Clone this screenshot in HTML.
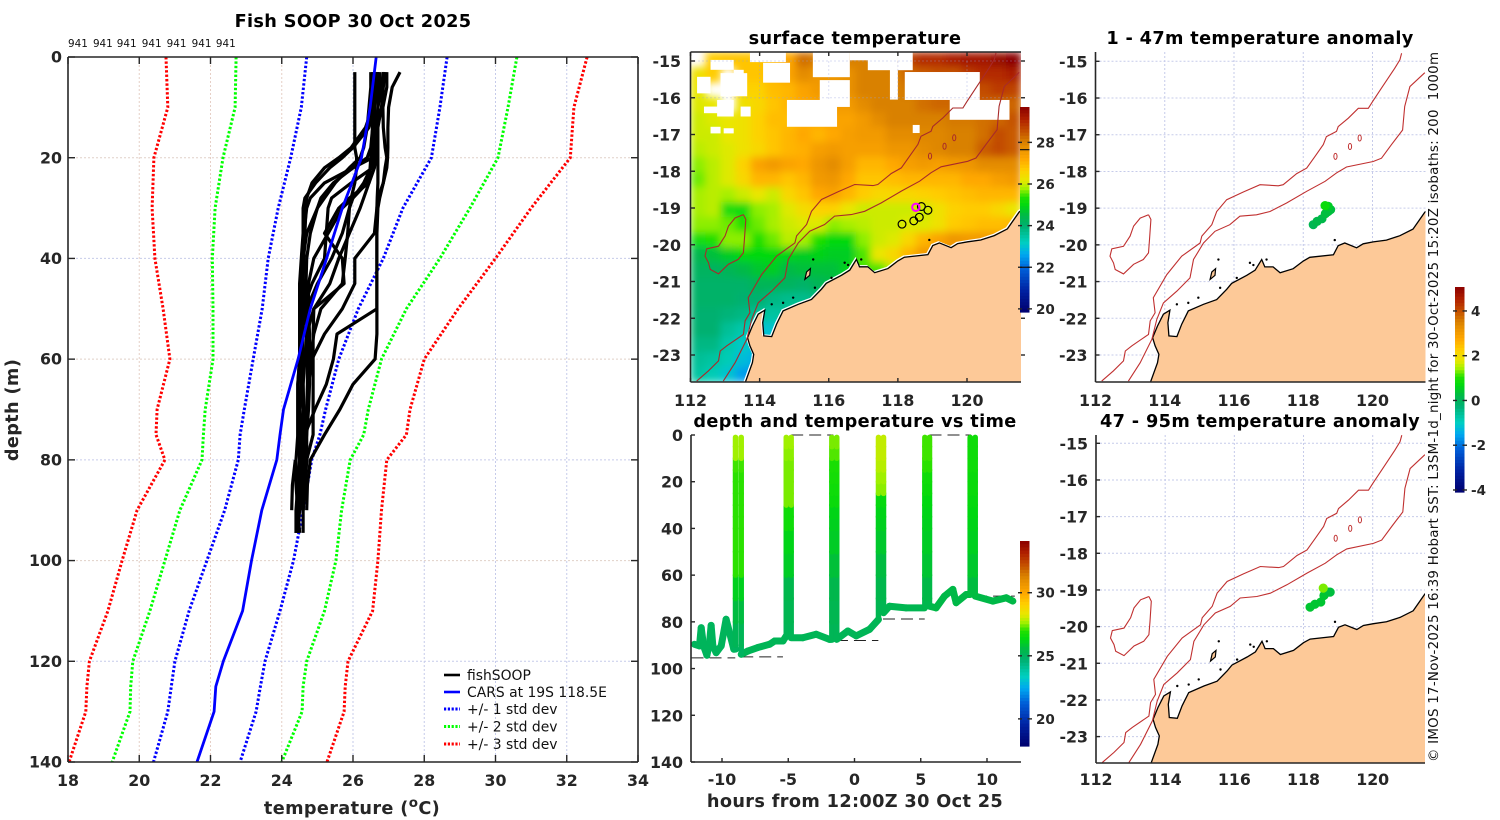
<!DOCTYPE html>
<html lang="en">
<head>
<meta charset="utf-8">
<title>Fish SOOP 30 Oct 2025</title>
<style>
html,body{margin:0;padding:0;background:#fff;}
svg{display:block;font-family:"DejaVu Sans","Liberation Sans",sans-serif;}
.tk{font-weight:bold;font-size:15.8px;fill:#262626;}
.cb{font-weight:bold;font-size:13.5px;fill:#262626;}
.ti{font-weight:bold;font-size:17.7px;fill:#000;letter-spacing:.35px;}
.lb{font-weight:bold;font-size:17.7px;fill:#262626;letter-spacing:.35px;}
.lg{font-size:13.9px;fill:#111;}
.id{font-size:10.4px;fill:#111;}
</style>
</head>
<body>
<svg id="fig" xmlns="http://www.w3.org/2000/svg" width="1500" height="820" viewBox="0 0 1500 820">
<defs>
<filter id="soft" x="-5%" y="-5%" width="110%" height="110%"><feGaussianBlur stdDeviation="4"/></filter>
<clipPath id="clipSst"><rect x="690.5" y="52" width="330.5" height="330"/></clipPath>
<clipPath id="clipA1"><rect x="1095.5" y="52" width="330" height="330"/></clipPath>
<clipPath id="clipA2"><rect x="1096" y="435" width="329" height="328"/></clipPath>
<clipPath id="clipProf"><rect x="68" y="57" width="570" height="705"/></clipPath>
<clipPath id="clipTime"><rect x="691" y="430" width="331" height="332"/></clipPath>
</defs>

<g id="profilePanel"></g>
<g id="sstPanel"></g>
<g id="timePanel"></g>
<g id="a1Panel"></g>
<g id="a2Panel"></g>

<text class="ti" x="353" y="27" text-anchor="middle">Fish SOOP 30 Oct 2025</text>
<text class="ti" x="855" y="44" text-anchor="middle">surface temperature</text>
<text class="ti" x="855" y="427" text-anchor="middle">depth and temperature vs time</text>
<text class="ti" x="1260" y="44" text-anchor="middle">1 - 47m temperature anomaly</text>
<text class="ti" x="1260" y="427" text-anchor="middle">47 - 95m temperature anomaly</text>

<text class="lb" transform="translate(18 410) rotate(-90)" text-anchor="middle">depth (m)</text>
<text class="lb" x="352" y="814" text-anchor="middle">temperature (<tspan dy="-7" font-size="13.5">o</tspan><tspan dy="7">C)</tspan></text>
<text class="lb" x="855" y="807" text-anchor="middle">hours from 12:00Z 30 Oct 25</text>

<text transform="translate(1438 762) rotate(-90)" font-size="13.4" fill="#111" textLength="710" lengthAdjust="spacing" style="white-space:pre">© IMOS 17-Nov-2025 16:39 Hobart SST: L3SM-1d_night for 30-Oct-2025 15:20Z isobaths: 200  1000m</text>

<g>
<line x1="444" x2="460" y1="675" y2="675" stroke="#000" stroke-width="2.6"/>
<text class="lg" x="467" y="680">fishSOOP</text>
<line x1="444" x2="460" y1="692" y2="692" stroke="#0000ff" stroke-width="2.6"/>
<text class="lg" x="467" y="697">CARS at 19S 118.5E</text>
<line x1="444" x2="460" y1="709" y2="709" stroke="#0000ff" stroke-width="3" stroke-dasharray="2.2 1.6"/>
<text class="lg" x="467" y="714">+/- 1 std dev</text>
<line x1="444" x2="460" y1="726.5" y2="726.5" stroke="#00ff00" stroke-width="3" stroke-dasharray="2.2 1.6"/>
<text class="lg" x="467" y="731.5">+/- 2 std dev</text>
<line x1="444" x2="460" y1="744" y2="744" stroke="#ff0000" stroke-width="3" stroke-dasharray="2.2 1.6"/>
<text class="lg" x="467" y="749">+/- 3 std dev</text>
</g>
</svg>

<script>
/* ---------- profile chart data ---------- */
const tempTicks = [18,20,22,24,26,28,30,32,34];
const depthTicks = [0,20,40,60,80,100,120,140];
const dropIds = ['941','941','941','941','941','941','941'];
const dropIdTemps = [18,18.7,19.37,20.07,20.77,21.47,22.15];
const carsDepths = [0,10,20,30,40,50,60,70,75,80,90,100,110,120,125,130,140];
const carsMean = [26.65,26.48,26.24,25.7,25.26,24.8,24.46,24.05,23.95,23.86,23.44,23.15,22.9,22.36,22.15,22.1,21.62];
const carsMinus1 = [24.7,24.55,24.25,23.9,23.62,23.45,23.2,22.95,22.83,22.78,22.4,21.9,21.4,21,20.9,20.8,20.4];
const carsPlus1 = [28.64,28.44,28.2,27.4,26.85,26.15,25.6,25.23,25.07,24.84,24.6,24.33,23.95,23.53,23.4,23.28,22.83];
const carsMinus2 = [22.72,22.69,22.35,22.13,22.05,22.07,22.07,21.85,21.8,21.76,21.14,20.72,20.3,19.82,19.76,19.74,19.24];
const carsPlus2 = [30.6,30.35,30.07,29.28,28.44,27.5,26.8,26.43,26.3,25.92,25.68,25.52,25.2,24.7,24.6,24.57,24];
const carsMinus3 = [20.75,20.8,20.41,20.36,20.44,20.67,20.86,20.5,20.47,20.72,19.94,19.52,19.12,18.6,18.53,18.5,18.03];
const carsPlus3 = [32.57,32.2,32.1,31,30,28.95,28,27.6,27.5,26.95,26.8,26.7,26.55,25.86,25.78,25.75,25.27];
const fishDepths = [3,6,10,14,18,20,22,25,28,30,35,40,45,50,55,60,65,70,75,80,85,90,94.5];
const fishProfile1 = [26.95,26.95,26.84,26.85,26.9,26.95,26.9,26.85,26.7,26.67,26.67,26.67,26.67,26.67,26.67,26.62,26.0,25.63,25.2,24.8,24.72,24.7,null];
const fishProfile2 = [27.32,27.1,27,26.98,26.98,26.97,26.95,26.85,26.75,26.7,26.67,26.67,26.67,26.67,25.55,25.45,25.25,24.93,24.65,24.62,24.6,24.55,null];
const fishProfile3 = [26.65,26.6,26.55,26.35,25.95,25.6,25.2,24.85,24.7,24.68,24.65,24.62,24.6,24.6,24.55,24.55,24.55,24.5,24.5,24.5,24.45,24.4,24.4];
const fishProfile4 = [26.7,26.65,26.6,26.45,26,25.7,25.35,24.95,24.65,24.6,24.6,24.55,24.5,24.5,24.5,24.5,24.45,24.45,24.45,24.5,24.5,24.45,24.5];
const fishProfile5 = [26.9,26.85,26.8,26.7,26.65,26.55,26,25.45,25.1,25,24.7,24.6,24.55,24.55,24.55,24.55,24.55,24.5,24.55,24.6,24.6,24.6,24.6];
const fishProfile6 = [26.85,26.8,26.7,26.65,26.65,26.6,26.55,25.95,25.4,25.3,25.25,25.2,24.85,24.6,24.6,24.55,24.55,24.6,24.65,24.6,24.55,24.5,24.45];
const fishProfile7 = [26.7,26.7,26.7,26.7,26.7,26.65,26.6,26.45,25.9,25.6,25.2,25.7,25.75,24.9,24.7,24.65,24.6,24.6,24.6,24.65,24.6,24.55,null];
const fishProfile8 = [26.6,26.6,26.6,26.6,26.6,26.55,26.5,26.4,26,25.9,25.85,25.78,25.7,25.1,24.9,24.8,24.75,24.7,24.65,24.65,24.6,24.6,null];
const fishProfile9 = [26.75,26.75,26.7,26.7,26.7,26.7,26.7,26.7,26.68,26.67,26.6,26.05,26.05,25.7,25.2,24.85,24.75,24.7,24.7,24.7,24.65,24.6,null];
const fishProfile10 = [26.55,26.55,26.55,26.55,26.52,26.5,26.48,26.45,26.3,26.2,25.9,25.6,25.35,24.9,24.88,24.88,24.88,24.88,24.88,24.7,24.65,24.6,null];
const fishProfile11 = [26.05,26.05,26.05,26.05,26.05,26.1,26.1,26.05,25.95,25.9,25.7,25.4,25,24.7,24.55,24.5,24.45,24.45,24.45,24.4,24.4,24.45,24.4];
const fishProfile12 = [null,null,null,null,null,null,null,null,null,null,null,null,null,null,null,null,null,null,null,24.38,24.3,24.28,null];
const fishProfile13 = [26.6,26.6,26.6,26.55,26.5,26.4,26.0,25.2,24.8,24.7,24.62,24.6,24.58,24.58,24.58,24.6,24.6,24.62,24.6,24.55,24.55,24.5,null];
const fishProfile14 = [26.5,26.5,26.45,26.4,26.3,26.2,25.9,25.5,25.2,25,24.8,24.7,24.68,24.68,24.7,24.72,24.72,24.7,24.68,24.6,24.58,24.55,null];
const fishProfile15 = [26.65,26.65,26.6,26.6,26.58,26.55,26.5,26.3,26,25.7,25.3,24.9,24.75,24.75,24.78,24.78,24.78,24.75,24.7,24.62,24.6,24.52,null];
const fishProfiles = [fishProfile1,fishProfile2,fishProfile3,fishProfile4,fishProfile5,fishProfile6,fishProfile7,fishProfile8,fishProfile9,fishProfile10,fishProfile11,fishProfile12,fishProfile13,fishProfile14,fishProfile15];

/* ---------- map data ---------- */
const lonTicks = [112,114,116,118,120];
const latTicks = [-15,-16,-17,-18,-19,-20,-21,-22,-23];
const coastLon = [113.58,113.79,113.83,113.72,113.65,113.79,113.96,114.15,114.09,114.12,114.35,114.49,114.68,115.12,115.5,115.79,115.93,116.37,116.61,116.8,116.89,117.13,117.33,117.71,118,118.19,118.87,119.01,119.2,119.54,119.73,120.02,120.4,120.79,121.17,121.51,121.6];
const coastLat = [-23.76,-23.21,-22.98,-22.75,-22.53,-22.21,-21.89,-21.78,-22.12,-22.48,-22.5,-22.16,-21.8,-21.62,-21.49,-21.21,-21.05,-20.83,-20.69,-20.4,-20.6,-20.6,-20.76,-20.65,-20.44,-20.34,-20.27,-20.02,-19.95,-20.08,-19.97,-19.92,-19.87,-19.75,-19.57,-19.11,-19.05];
const iso1Lon = [120.84,120.79,120.64,120.26,120,119.88,119.59,119.3,119.01,118.96,118.67,118.58,118.34,118.1,117.81,117.42,117.28,116.75,116.27,115.79,115.5,115.36,115.07,115.02,114.49,114.06,113.67,113.72,113.58,113.53,113.05,112.86,112.81,112.52,112.18];
const iso1Lat = [-14.78,-14.96,-15.19,-15.73,-16.1,-16.28,-16.28,-16.55,-16.78,-16.91,-17.05,-17.27,-17.59,-17.91,-18.06,-18.36,-18.39,-18.36,-18.56,-18.77,-19.09,-19.45,-19.76,-19.95,-20.31,-20.81,-21.44,-21.85,-22.07,-22.44,-22.75,-22.89,-23.16,-23.43,-23.71];
const iso2Lon = [121.51,121.08,120.93,120.87,120.55,120.26,120.02,119.25,118.96,118.63,118.1,117.52,117.04,116.65,116.17,115.88,115.45,115.12,114.83,114.73,114.35,113.96,113.77,113.63,113.29,112.95];
const iso2Lat = [-15.31,-15.69,-16.23,-16.87,-17.27,-17.64,-17.73,-17.88,-18.04,-18.27,-18.54,-18.86,-19.09,-19.18,-19.22,-19.45,-19.63,-19.95,-20.4,-20.9,-21.26,-21.58,-22.03,-22.57,-23.21,-23.71];
const plateauLon = [113.53,113.6,113.56,113.53,113.38,113.1,112.81,112.57,112.52,112.42,112.47,112.81,113,113.1,113.29,113.53];
const plateauLat = [-19.18,-19.31,-19.86,-20.22,-20.4,-20.53,-20.79,-20.67,-20.49,-20.31,-20.11,-20.04,-19.76,-19.49,-19.27,-19.18];
const seamountLon = [118.93,119.35,119.63];
const seamountLat = [-17.59,-17.32,-17.09];
const barrowLon = [115.31,115.36,115.47,115.45,115.31];
const barrowLat = [-20.94,-20.74,-20.65,-20.83,-20.94];
const islandLon = [115.55,116.56,116.46,116.94,114.35,114.68,114.97,116.08,115.6,118.91];
const islandLat = [-20.4,-20.55,-20.49,-20.4,-21.62,-21.58,-21.44,-20.9,-21.17,-19.87];

/* ---------- SST heatmap (degC per cell, null = cloud) ---------- */
const _ = null;
const sstRow0  = [_,26.7,26.8,26.8,26.8,27,27.2,28.2,28,28,28,28,28,28.2,28.7,29,29,29.2,29.3,29.3,29.5,29.7];
const sstRow1  = [26.3,26.7,_,26.8,26.8,27,27.3,27.8,27.6,27.6,27.7,28,28,28,28.3,28.4,28.5,28.5,28.8,29,29,29.2];
const sstRow2  = [26.2,_,_,26.6,26.6,26.9,27,27.3,27.5,27.6,27.7,28,28,28,28.1,28.2,28.3,28.4,28.5,28.6,28.8,28.7];
const sstRow3  = [26.1,26.2,_,26.3,26.5,26.8,27,27.2,27.3,27.5,27.5,27.8,28,28,28,28.2,28.3,28.3,28.5,28.4,28.3,28.3];
const sstRow4  = [26,26.1,26.2,26.3,26.6,26.9,26.9,27.1,27.2,27.3,27.3,27.5,27.8,28,28,28,28,28.1,28.1,28.2,28.3,28.5];
const sstRow5  = [26,26,26.2,26.3,26.6,26.8,27,27.2,27,27.2,27.4,27.5,27.5,27.8,27.8,27.9,27.9,28,28,28.2,28.6,28.4];
const sstRow6  = [25.9,26,26.1,26.3,26.5,26.8,27,27.1,27.4,27.5,27.4,27.4,27.4,27.6,27.6,27.8,27.9,28,28,28.4,28.6,28.4];
const sstRow7  = [25.7,25.9,26.1,26.6,27.3,27.5,27.3,27.2,27.6,27.8,27.4,27,27,27.2,27.4,27.5,27.4,27.5,27.6,27.8,27.8,27.8];
const sstRow8  = [25.6,25.9,26.1,26.5,27,27,26.8,27,27.5,27.6,27.2,26.8,26.8,26.9,27,27,27,27,27.2,27.2,27.4,27.5];
const sstRow9  = [25.8,25.9,25.8,26,26.2,26,26.5,26.8,27.2,27.3,27,26.7,26.5,26.5,26.5,26.6,26.7,26.8,26.9,27,27,27];
const sstRow10 = [25.8,25.9,25.2,25.1,25.7,25.8,26.1,26.4,26.6,26.6,26.2,26,26,26,26,26,26.3,26.6,26.7,26.7,26.5,26.2];
const sstRow11 = [25.7,25.7,25.6,25.3,25.6,25.8,26,26.1,26.1,25.7,25.8,25.9,26,26,26.1,26.1,26.3,26.7,26.8,26.9,26.9,27];
const sstRow12 = [25.2,25.3,25.7,25.7,25.3,25.6,25.9,25.8,25.3,25,25,25.7,26,26.1,26.5,27,27.3,27.6,27.5,27.5,27.5,27.5];
const sstRow13 = [24.4,24.6,24.8,25,25,25,24.9,24.8,24.9,24.8,24.8,25.5,26.2,26.5,27,27.5,27.5,27.5,27.5,27.5,27.5,27.5];
const sstRow14 = [24.2,24.2,24.3,24.5,24.7,24.8,24.5,24.6,24.6,24.6,24.9,25.5,25.5,26,26,26,26,26,26,26,26,26];
const sstRow15 = [24.1,24.1,24.1,24.1,24.3,24.3,24.2,24.1,24.3,24.5,24.6,24.6,24.6,24.6,24.6,24.6,24.6,24.6,24.6,24.6,24.6,24.6];
const sstRow16 = [24.1,24.1,24.1,24,24,23.8,23.7,23.7,23.8,23.8,23.8,23.8,23.8,23.8,23.8,23.8,23.8,23.8,23.8,23.8,23.8,23.8];
const sstRow17 = [24,24,23.9,23.8,23.6,23.5,23.6,23.6,23.6,23.6,23.6,23.6,23.6,23.6,23.6,23.6,23.6,23.6,23.6,23.6,23.6,23.6];
const sstRow18 = [24,24,23.6,23.4,23,23,23.2,23.2,23.2,23.2,23.2,23.2,23.2,23.2,23.2,23.2,23.2,23.2,23.2,23.2,23.2,23.2];
const sstRow19 = [23.8,23.8,23.4,23.1,22.9,22.8,22.6,22.6,22.6,22.6,22.6,22.6,22.6,22.6,22.6,22.6,22.6,22.6,22.6,22.6,22.6,22.6];
const sstRow20 = [23.6,23.5,23.3,22.9,22.6,22.4,22.3,22.3,22.3,22.3,22.3,22.3,22.3,22.3,22.3,22.3,22.3,22.3,22.3,22.3,22.3,22.3];
const sstRow21 = [23.5,23.3,23,22.5,22.3,22.2,22.2,22.2,22.2,22.2,22.2,22.2,22.2,22.2,22.2,22.2,22.2,22.2,22.2,22.2,22.2,22.2];
const sstGrid = [sstRow0,sstRow1,sstRow2,sstRow3,sstRow4,sstRow5,sstRow6,sstRow7,sstRow8,sstRow9,sstRow10,sstRow11,sstRow12,sstRow13,sstRow14,sstRow15,sstRow16,sstRow17,sstRow18,sstRow19,sstRow20,sstRow21];
const cloudLon = [112.87,114.1,114.79,115.74,115.54,116.61,117.13,117.77,118,118.2,119.5,118.43,113.72,112.58,112.19,113.25,112.77,112.39,113.45,112.58,112.96];
const cloudLat = [-15.33,-15.05,-16.06,-15.52,-14.76,-14.76,-14.76,-15.05,-14.76,-15.3,-16.06,-16.74,-14.76,-14.97,-15.43,-15.24,-16.06,-16.24,-16.24,-16.79,-16.83];
const cloudLonSpan = [0.77,0.78,1.45,0.87,1.07,1.39,0.87,0.23,0.43,2.17,1.73,0.2,1.04,0.67,0.39,0.29,0.48,0.39,0.29,0.29,0.29];
const cloudLatSpan = [0.63,0.54,0.73,0.73,0.68,0.22,0.49,1,0.49,0.76,0.54,0.22,0.27,0.27,0.45,0.63,0.45,0.18,0.27,0.18,0.14];
const stationLon = [118.12,118.46,118.62,118.87,118.68];
const stationLat = [-19.44,-19.35,-19.25,-19.06,-18.96];
const currentLon = [118.52];
const currentLat = [-18.98];

/* ---------- anomaly tracks ---------- */
const anom1Lon = [118.29,118.4,118.54,118.64,118.72,118.79,118.72,118.63];
const anom1Lat = [-19.45,-19.36,-19.29,-19.15,-19.09,-19.04,-18.95,-18.93];
const anom1Val = [0.1,0.2,0.2,0.3,0.3,0.3,0.5,0.8];
const anom2Lon = [118.19,118.33,118.5,118.59,118.72,118.77,118.57];
const anom2Lat = [-19.47,-19.39,-19.33,-19.15,-19.06,-19.06,-18.95];
const anom2Val = [0.4,0.4,0.4,0.4,0.4,0.3,1.3];

/* ---------- depth / time data ---------- */
const hourTicks = [-10,-5,0,5,10];
const timeDepthTicks = [0,20,40,60,80,100,120,140];
const leg1Hours = [-12.08,-11.7,-11.57,-11.39,-11.14,-10.94,-10.82,-10.69,-10.44,-10.06,-9.69,-9.43,-9.11,-8.98];
const leg1Depth = [89.6,90.3,82.5,90.3,94.3,88.9,81.5,90.3,93.2,90.3,78.9,84.6,91.7,91.7];
const leg2Hours = [-8.55,-8.05,-7.3,-6.41,-6.03,-5.4,-5.15];
const leg2Depth = [93.9,92.5,91,89.6,88.2,88.2,86];
const leg3Hours = [-4.78,-3.9,-2.89,-1.89,-1.71];
const leg3Depth = [86.8,86.8,85.3,87.5,87.5];
const leg4Hours = [-1.34,-0.5,0.13,1.14,1.81];
const leg4Depth = [87.5,83.9,86,83.2,79];
const leg5Hours = [2.19,2.64,3.9,5.28];
const leg5Depth = [76.1,73.3,74,74];
const leg6Hours = [5.66,6.16,6.79,7.42,7.67,8.43,8.73];
const leg6Depth = [73.3,74,69,66.1,71.8,68.3,68.3];
const leg7Hours = [9.11,10.45,11.45,11.95];
const leg7Depth = [69,71.1,69.7,71.1];
const legTemps = [25.1,25.2,25.2,25.2,25.3,25.5,25.5];
const legHours = [leg1Hours,leg2Hours,leg3Hours,leg4Hours,leg5Hours,leg6Hours,leg7Hours];
const legDepths = [leg1Depth,leg2Depth,leg3Depth,leg4Depth,leg5Depth,leg6Depth,leg7Depth];
const castDepths = [1,5,10,15,20,25,30,35,40,50,60,70,80,90];
const cast1Temps = [27.6,27.6,27.1,27,27,27,27,27,27,27,26.1,25.6,25.2,25];
const cast2Temps = [27.6,27.5,27.4,27.4,27.4,27.4,26.6,26.6,26.2,26,25.4,25.3,25.2,25];
const cast3Temps = [27.4,27.2,26.8,26.7,26.6,26.5,26.2,26.1,26,25.7,25.4,25.3,25.2,25];
const cast4Temps = [27.9,27.9,27.8,27.6,27.5,26.4,26.2,26.1,25.9,25.6,25.4,25.3,25.2,25];
const cast5Temps = [27.1,27.1,27,26.6,26.5,26.3,26.2,26.1,26,25.8,25.5,25.4,25.3,25.2];
const cast6Temps = [26.6,26.6,26.6,26.5,26.5,26.4,26.3,26.2,26.1,25.9,25.6,25.4,25.3,25.2];
const castTemps = [cast1Temps,cast2Temps,cast3Temps,cast4Temps,cast5Temps,cast6Temps];
const castDownHours = [-8.98,-5.15,-1.71,1.81,5.31,8.73];
const castUpHours = [-8.55,-4.78,-1.34,2.19,5.66,9.11];
const castDownBottom = [91.7,86,87.5,79,74,68.3];
const castUpBottom = [93.9,86.8,87.5,76.1,73.3,69];
const seabedStart = [-12.3,-8.55,-4.78,-1.4,2.15,5.66,9.1];
const seabedEnd = [-9,-5.4,-1.6,1.8,5.3,8.8,12.1];
const seabedDepth = [95.4,95,0,88,78.8,0,69];

/* ---------- colour bars ---------- */
const sstBarTicks = [20,22,24,26,28];
const timeBarTicks = [20,25,30];
const anomBarTicks = [-4,-2,0,2,4];

/* ---------- helpers ---------- */
const NS = 'http://www.w3.org/2000/svg';
function el(tag, attrs, parent){
  const e = document.createElementNS(NS, tag);
  for (const k in attrs) e.setAttribute(k, attrs[k]);
  parent.appendChild(e);
  return e;
}
function scale(d0,d1,r0,r1){ return v => r0 + (v-d0)*(r1-r0)/(d1-d0); }
const cmapPos = [0,.1,.21,.28,.34,.42,.47,.52,.56,.6,.64,.69,.745,.8,.83,.87,.94,1];
const cmapCol = ['#00006e','#0020a0','#0060d8','#00a8f0','#00d0c0','#00b070','#00b848','#00d810','#20e000','#a0f000','#e8e800','#ffd000','#ffa800','#e89000','#d88000','#c85a00','#b02000','#8b0000'];
function cmap(u){
  u = Math.max(0,Math.min(1,u));
  let i = 0;
  while (i < cmapPos.length-2 && u > cmapPos[i+1]) i++;
  const f = (u-cmapPos[i])/(cmapPos[i+1]-cmapPos[i]);
  const a = cmapCol[i], b = cmapCol[i+1];
  const c = [1,3,5].map(p => Math.round(parseInt(a.substr(p,2),16)*(1-f)+parseInt(b.substr(p,2),16)*f));
  return 'rgb('+c.join(',')+')';
}
const sstColor = T => cmap((T-19.85)/9.85);
const timeColor = T => cmap((T-17.85)/16.25);
const anomColor = T => cmap((T+4.09)/9.16);
function pts(xs,ys,fx,fy){
  const o = [];
  for (let i=0;i<xs.length;i++) if (xs[i]!==null && ys[i]!==null) o.push(fx(xs[i]).toFixed(1)+','+fy(ys[i]).toFixed(1));
  return o.join(' ');
}
function gridLine(parent,x1,y1,x2,y2,col){
  const g = el('line',{x1,y1,x2,y2,stroke:col,'stroke-width':1,'stroke-dasharray':'2 2'},parent);
  
  
}
function tickMark(parent,x1,y1,x2,y2){
  const t = el('line',{x1,y1,x2,y2,stroke:'#262626','stroke-width':1.4},parent);
  
  
}
function axisLine(parent,x1,y1,x2,y2){
  const t = el('line',{x1,y1,x2,y2,stroke:'#262626','stroke-width':1.6},parent);
  
  
}
function tickText(parent,x,y,str,anchor,cls){
  const t = el('text',{x,y,'text-anchor':anchor,class:cls},parent);
  t.textContent = str;
  
  
}
function colorBar(parent,x,y0,y1,lo,hi,colorFn,ticks,extra){
  const h = y1-y0;
  const ys = scale(lo,hi,y1,y0);
  const n = 64;
  for (let i=0;i<n;i++){
    const r = el('rect',{x,y:y0+i*h/n,width:9.5,height:h/n+.6,fill:colorFn(hi-(i+.5)*(hi-lo)/n)},parent);
    
    
  }
  ticks.forEach(v=>{
    tickMark(parent,x-2,ys(v),x+2,ys(v));
    tickMark(parent,x+7.5,ys(v),x+12,ys(v));
    tickText(parent,x+16,ys(v)+5,String(v),'start','cb');
  });
  (extra||[]).forEach(v=>{
    const l = el('line',{x1:x,x2:x+9.5,y1:ys(v),y2:ys(v),stroke:'#111','stroke-width':1.2},parent);
    
    
  });
}

/* ---------- left panel: profiles ---------- */
(function(){
  const p = document.getElementById('profilePanel');
  const fx = scale(18,34,68,638), fy = scale(0,140,57,762);
  tempTicks.slice(1,-1).forEach(v=>gridLine(p,fx(v),57,fx(v),762, v<=24 ? '#e6cfc6' : '#c6cbea'));
  depthTicks.slice(1,-1).forEach(v=>gridLine(p,68,fy(v),638,fy(v), v%40===20 ? '#e0d0c8' : '#c6cbea'));
  const clip = el('g',{'clip-path':'url(#clipProf)'},p);
  
  
  const stds = [[carsMinus3,'#ff0000'],[carsPlus3,'#ff0000'],[carsMinus2,'#00ff00'],[carsPlus2,'#00ff00'],[carsMinus1,'#0000ff'],[carsPlus1,'#0000ff']];
  stds.forEach(s=>{
    const l = el('polyline',{points:pts(s[0],carsDepths,fx,fy),fill:'none',stroke:s[1],'stroke-width':3,'stroke-dasharray':'2.4 2'},clip);
    
    
  });
  fishProfiles.forEach(prof=>{
    const l = el('polyline',{points:pts(prof,fishDepths,fx,fy),fill:'none',stroke:'#000','stroke-width':3.2,'stroke-linejoin':'round'},clip);
    
    
  });
  const m = el('polyline',{points:pts(carsMean,carsDepths,fx,fy),fill:'none',stroke:'#0000ff','stroke-width':2.8,'stroke-linejoin':'round'},clip);
  
  
  axisLine(p,68,57,638,57); axisLine(p,68,762,638,762); axisLine(p,68,57,68,762); axisLine(p,638,57,638,762);
  tempTicks.forEach(v=>{
    tickMark(p,fx(v),57,fx(v),64);
    tickMark(p,fx(v),762,fx(v),755);
    tickText(p,fx(v),786,String(v),'middle','tk');
  });
  depthTicks.forEach(v=>{
    tickMark(p,68,fy(v),75,fy(v));
    tickMark(p,638,fy(v),631,fy(v));
    tickText(p,62,fy(v)+5.6,String(v),'end','tk');
  });
  dropIds.forEach((s,i)=>{
    const t = el('text',{x:fx(dropIdTemps[i]),y:47,class:'id'},p);
    t.textContent = s;
    
    
  });
})();

/* ---------- shared map layers ---------- */
function drawGeography(g,fx,fy,right,bottom,isoColor,sst){
  const landX = coastLon.concat([right,coastLon[0]]);
  const landY = coastLat.concat([bottom,bottom]);
  const land = el('polygon',{points:pts(landX,landY,fx,fy),fill:'#fdc998'},g);
  
  
  if (sst){
    const halo = el('polyline',{points:pts(coastLon,coastLat,v=>fx(v)-1,v=>fy(v)-1),fill:'none',stroke:'#fff','stroke-width':1.4},g);
    
    
  }
  const coast = el('polyline',{points:pts(coastLon,coastLat,fx,fy),fill:'none',stroke:'#000','stroke-width':1.3},g);
  
  
  const b = el('polygon',{points:pts(barrowLon,barrowLat,fx,fy),fill:'#fdc998',stroke:'#000','stroke-width':1.2},g);
  
  
  islandLon.forEach((lon,i)=>{
    const c = el('circle',{cx:fx(lon),cy:fy(islandLat[i]),r:1.2,fill:'#000'},g);
    
    
  });
  [[iso1Lon,iso1Lat],[iso2Lon,iso2Lat],[plateauLon,plateauLat]].forEach(a=>{
    const l = el('polyline',{points:pts(a[0],a[1],fx,fy),fill:'none',stroke:isoColor,'stroke-width':1.1},g);
    
    
  });
  seamountLon.forEach((lon,i)=>{
    const c = el('ellipse',{cx:fx(lon),cy:fy(seamountLat[i]),rx:1.6,ry:3,fill:'none',stroke:isoColor,'stroke-width':1},g);
    
    
  });
}

/* ---------- surface temperature ---------- */
(function(){
  const p = document.getElementById('sstPanel');
  const fx = scale(112,120,690.5,967), fy = scale(-15,-23,61,355);
  const clip = el('g',{'clip-path':'url(#clipSst)'},p);
  
  
  const heat = el('g',{filter:'url(#soft)'},clip);
  
  
  const cw = 330.5/sstGrid[0].length, ch = 330/sstGrid.length;
  sstGrid.forEach((row,r)=>row.forEach((v,c)=>{
    if (v===null) return;
    const cell = el('rect',{x:690.5+c*cw,y:52+r*ch,width:cw+.5,height:ch+.5,fill:sstColor(v)},heat);
    
    
  }));
  cloudLon.forEach((lon,i)=>{
    const c = el('rect',{x:fx(lon),y:fy(cloudLat[i]),width:fx(lon+cloudLonSpan[i])-fx(lon),height:fy(cloudLat[i]-cloudLatSpan[i])-fy(cloudLat[i]),fill:'#fff'},clip);
    
    
  });
  lonTicks.slice(1).forEach(v=>gridLine(clip,fx(v),61,fx(v),100,'rgba(150,160,220,.35)'));
  latTicks.slice(0,2).forEach(v=>gridLine(clip,690,fy(v),1021,fy(v),'rgba(150,160,220,.35)'));
  drawGeography(clip,fx,fy,121.6,-23.76,'#a82a2a',true);
  stationLon.forEach((lon,i)=>{
    const c = el('circle',{cx:fx(lon),cy:fy(stationLat[i]),r:3.9,fill:'none',stroke:'#000','stroke-width':1.2},clip);
    
    
  });
  currentLon.forEach((lon,i)=>{
    const c = el('circle',{cx:fx(lon),cy:fy(currentLat[i]),r:3.7,fill:'none',stroke:'#ff00ff','stroke-width':2},clip);
    
    
  });
  axisLine(p,690.5,52,1021,52); axisLine(p,690.5,382,1021,382); axisLine(p,690.5,52,690.5,382);
  lonTicks.forEach(v=>{
    tickMark(p,fx(v),52,fx(v),56);
    tickMark(p,fx(v),382,fx(v),378);
    tickText(p,fx(v),406,String(v),'middle','tk');
  });
  latTicks.forEach(v=>{
    tickMark(p,690.5,fy(v),695,fy(v));
    tickMark(p,1021,fy(v),1025,fy(v));
    tickText(p,681,fy(v)+6,String(v),'end','tk');
  });
  colorBar(p,1020,107,312,19.85,29.7,sstColor,sstBarTicks,[27.65,22]);
})();

/* ---------- depth vs time ---------- */
(function(){
  const p = document.getElementById('timePanel');
  const fx = scale(-10,10,722,987), fy = scale(0,140,435,762);
  seabedDepth.forEach((d,i)=>{
    const l = el('line',{x1:fx(seabedStart[i]),x2:fx(seabedEnd[i]),y1:fy(d),y2:fy(d),stroke:'#222','stroke-width':1,'stroke-dasharray':'12 6'},p);
    
    
  });
  const clip = el('g',{'clip-path':'url(#clipTime)'},p);
  
  
  const seg = (h0,d0,h1,d1,T,w) => {
    const l = el('line',{x1:fx(h0),y1:fy(d0),x2:fx(h1),y2:fy(d1),stroke:timeColor(T),'stroke-width':w,'stroke-linecap':'round'},clip);
    
    
  };
  legHours.forEach((hs,k)=>{
    for (let i=0;i<hs.length-1;i++) seg(hs[i],legDepths[k][i],hs[i+1],legDepths[k][i+1],legTemps[k],7);
  });
  castTemps.forEach((temps,c)=>{
    [[castDownHours[c],castDownBottom[c]],[castUpHours[c],castUpBottom[c]]].forEach(col=>{
      const ds = castDepths.filter(d=>d<col[1]).concat([col[1]]);
      for (let i=ds.length-2;i>=0;i--) seg(col[0],ds[i+1],col[0],ds[i],temps[i],5.5);
    });
  });
  axisLine(p,691,435,691,762); axisLine(p,691,762,1021,762);
  timeDepthTicks.forEach(v=>{
    tickMark(p,691,fy(v),695,fy(v));
    tickText(p,683,fy(v)+6,String(v),'end','tk');
  });
  hourTicks.forEach(v=>{
    tickMark(p,fx(v),762,fx(v),758);
    tickText(p,fx(v),785,String(v),'middle','tk');
  });
  colorBar(p,1020,541,746,17.85,34.1,timeColor,timeBarTicks,[]);
})();

/* ---------- anomaly maps ---------- */
function anomalyMap(panelId,clipId,x0,x1,y0,y1,lon112,lon120,lat15,lat23,trackLon,trackLat,trackVal,labelY){
  const p = document.getElementById(panelId);
  const fx = scale(112,120,lon112,lon120), fy = scale(-15,-23,lat15,lat23);
  const clip = el('g',{'clip-path':'url(#'+clipId+')'},p);
  
  
  lonTicks.slice(1).forEach(v=>gridLine(clip,fx(v),y0,fx(v),y1,'#c6cbea'));
  latTicks.forEach(v=>gridLine(clip,x0,fy(v),x1,fy(v),'#c6cbea'));
  drawGeography(clip,fx,fy,121.6,-23.76,'#c03030',false);
  trackLon.forEach((lon,i)=>{
    const c = el('circle',{cx:fx(lon),cy:fy(trackLat[i]),r:4.6,fill:anomColor(trackVal[i])},clip);
    
    
  });
  axisLine(p,x0,y0,x0,y1); axisLine(p,x0,y1,x1,y1);
  lonTicks.forEach(v=>tickText(p,fx(v),labelY,String(v),'middle','tk'));
  latTicks.forEach(v=>{
    tickMark(p,x0,fy(v),x0+4,fy(v));
    tickText(p,x0-8,fy(v)+6,String(v),'end','tk');
  });
}
anomalyMap('a1Panel','clipA1',1095.5,1425.5,52,382,1095.5,1372.5,61.3,355,anom1Lon,anom1Lat,anom1Val,406);
anomalyMap('a2Panel','clipA2',1096,1425,435,763,1096,1372.7,443.3,736.6,anom2Lon,anom2Lat,anom2Val,785);
colorBar(document.getElementById('a1Panel'),1455,287,492,-4.09,5.07,anomColor,anomBarTicks,[]);
</script>
</body>
</html>
